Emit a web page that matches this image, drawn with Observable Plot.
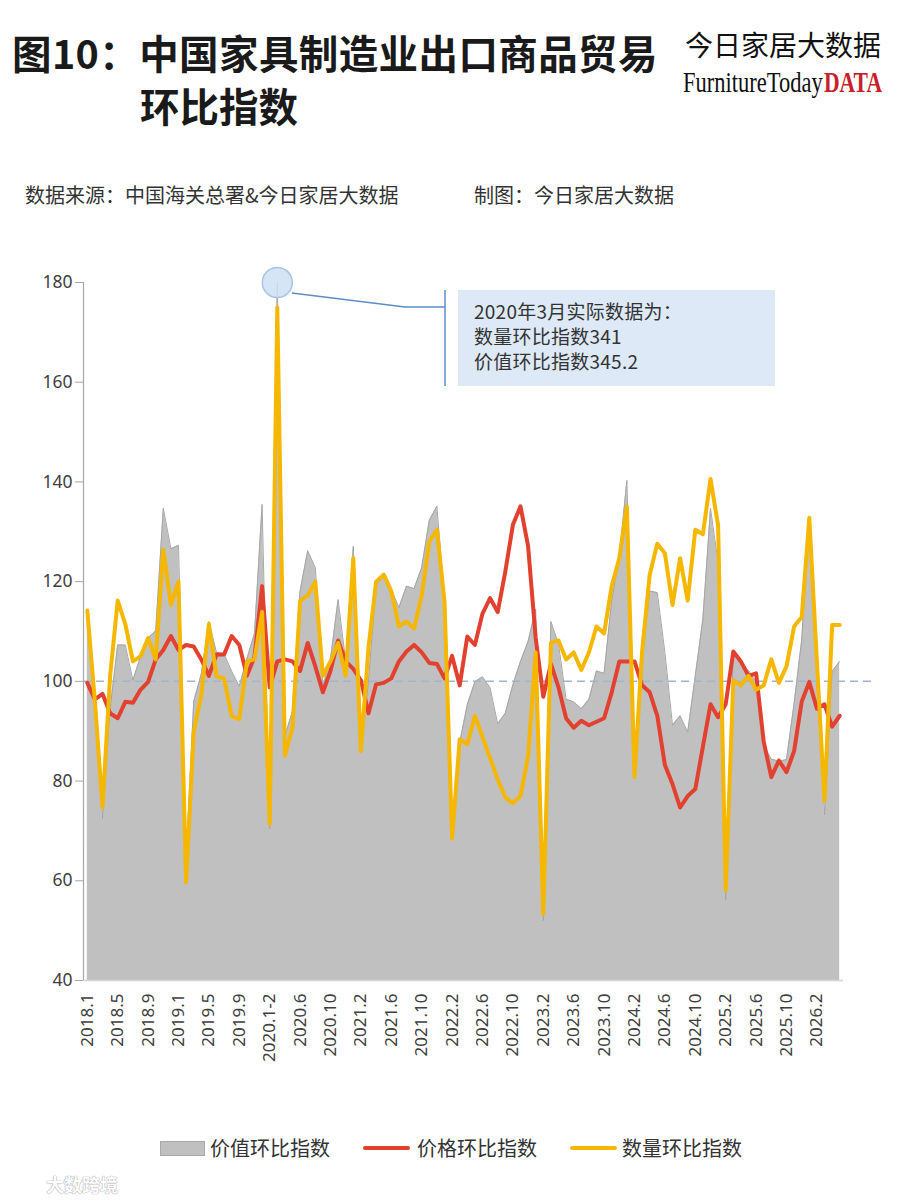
<!DOCTYPE html>
<html>
<head>
<meta charset="utf-8">
<script src="https://cdn.jsdelivr.net/npm/d3@7"></script>
<script src="https://cdn.jsdelivr.net/npm/@observablehq/plot@0.6"></script>
<style>
  body { margin: 0; background: #fff; font-family: "Noto Sans CJK SC", "Noto Sans", sans-serif; }
  #page { position: relative; width: 900px; height: 1200px; overflow: hidden; background: #fff; }
  .abs { position: absolute; white-space: nowrap; }
  #chart { position: absolute; left: 0; top: 262px; }
  .brand { position: absolute; top: 66px; font-family: "Liberation Serif", serif; font-size: 30px; line-height: 32px; transform-origin: 0 50%; white-space: nowrap; }
  .note { position: absolute; left: 474px; font-family: "Noto Sans CJK SC", "Noto Sans", sans-serif; font-size: 19px; line-height: 25px; letter-spacing: 0.25px; color: #333; white-space: nowrap; }
</style>
</head>
<body>
<div id="page">
  <div class="abs" style="left:12px;top:32px;font-size:39.5px;line-height:40px;letter-spacing:0.4px;font-weight:700;color:#1a1a1a;">图10：中国家具制造业出口商品贸易</div>
  <div class="abs" style="left:140px;top:85px;font-size:39.5px;line-height:40px;font-weight:700;color:#1a1a1a;">环比指数</div>
  <div class="abs" style="left:685px;top:29px;font-size:28px;line-height:30px;font-weight:400;color:#111;">今日家居大数据</div>
  <span class="brand" style="left:683px;color:#111;transform:scaleX(0.75);">FurnitureToday</span>
  <span class="brand" style="left:824px;color:#c8202a;font-weight:700;transform:scaleX(0.72);">DATA</span>
  <div class="abs" style="left:25px;top:185px;font-size:20px;line-height:20px;color:#333;">数据来源：中国海关总署&amp;今日家居大数据</div>
  <div class="abs" style="left:474px;top:185px;font-size:20px;line-height:20px;color:#333;">制图：今日家居大数据</div>

  <div id="chart"></div>

  <svg class="abs" style="left:0;top:0;pointer-events:none;" width="900" height="420">
    <polyline points="292,293 405,307 445,307" fill="none" stroke="#5b8dc9" stroke-width="1.5"/>
    <line x1="445" y1="290" x2="445" y2="386" stroke="#5b8dc9" stroke-width="1.5"/>
  </svg>
  <div class="abs" style="left:458px;top:290px;width:317px;height:96px;background:#dde9f7;"></div>
  <div class="note" style="top:298px;">2020年3月实际数据为：</div>
  <div class="note" style="top:323px;">数量环比指数341</div>
  <div class="note" style="top:348px;">价值环比指数345.2</div>

  <div class="abs" style="left:160px;top:1141px;width:43px;height:13px;background:#c0c0c0;border:1px solid #a8a8a8;"></div>
  <div class="abs" style="left:210px;top:1138px;font-size:20px;line-height:20px;color:#333;">价值环比指数</div>
  <div class="abs" style="left:363px;top:1146px;width:47px;height:4px;border-radius:2px;background:#e2412f;"></div>
  <div class="abs" style="left:417px;top:1138px;font-size:20px;line-height:20px;color:#333;">价格环比指数</div>
  <div class="abs" style="left:570px;top:1146px;width:47px;height:4px;border-radius:2px;background:#f5b700;"></div>
  <div class="abs" style="left:622px;top:1138px;font-size:20px;line-height:20px;color:#333;">数量环比指数</div>

  <div class="abs" style="left:46px;top:1173px;font-size:18px;line-height:22px;color:#fff;font-weight:700;text-shadow:0 0 1px #999,0 0 1px #999;">大数跨境</div>
</div>

<script>
// ---- tick labels (every 4th month, index 0,4,...,96) ----
const tickLabels = ["2018.1","2018.5","2018.9","2019.1","2019.5","2019.9","2020.1-2","2020.6","2020.10",
  "2021.2","2021.6","2021.10","2022.2","2022.6","2022.10","2023.2","2023.6","2023.10",
  "2024.2","2024.6","2024.10","2025.2","2025.6","2025.10","2026.2"];

// ---- 价值环比指数 (value index, 2020.3 shown capped) ----
const valueIdx = [
  114, 92.5, 72.5, 94.5, 107.3, 107.3, 100.2, 104.9, 108.7, 110.1,
  134.7, 126.6, 127.3, 64, 95.9, 101.5, 112, 105.8, 105.5, 102,
  99, 104.5, 109.6, 135.5, 70.5, 180, 89, 94, 118.1, 126.2,
  122.8, 99, 104.5, 116.4, 104, 127.1, 86.2, 100, 119.5, 121,
  118.5, 114.8, 119.1, 118.6, 122.8, 132.3, 135.1, 116.5, 71.5, 87.7,
  95.3, 99.9, 100.9, 98.7, 91.5, 93.6, 99.3, 104, 108, 114.5,
  52, 112, 107.5, 96.4, 95.9, 94.5, 96.4, 102.1, 101.6, 116.2,
  125, 140.3, 82, 104, 118.1, 117.8, 105.8, 91.2, 93.1, 89.8,
  101.1, 112.5, 134.7, 123.8, 56.2, 105.8, 103.2, 102.2, 99.9, 87.2,
  84.4, 84, 84.3, 95.5, 108.3, 132.7, 98, 73.2, 102, 104
];

// ---- 价格环比指数 (price index) ----
const priceIdx = [
  99.7, 96.4, 97.5, 93.6, 92.6, 95.9, 95.7, 98.3, 99.9, 104.4,
  106.3, 109.1, 106.3, 107.3, 107, 104.4, 101.1, 105.4, 105.4, 109.1,
  107.3, 101.1, 104.9, 119.1, 98.8, 104, 104.4, 104, 102.1, 107.7,
  103, 97.8, 102.1, 108.2, 104, 102.5, 100.2, 93.6, 99.4, 99.7,
  100.6, 104, 106, 107.3, 105.8, 103.7, 103.5, 100.6, 105.1, 99.2,
  109, 107.3, 113.6, 116.7, 113.9, 122, 131.4, 135.1, 127.1, 108.7,
  96.9, 103.5, 98.8, 92.6, 90.7, 92.1, 91.2, 91.9, 92.6, 97.8,
  104, 104, 104, 99.2, 97.8, 93.1, 83.2, 79.4, 74.7, 77,
  78.4, 86.9, 95.4, 92.8, 95.4, 106, 104, 101.1, 101.6, 87.9,
  80.8, 84.1, 81.8, 86, 95.9, 99.9, 94.5, 95.4, 90.9, 93.1
];

// ---- 数量环比指数 (quantity index, 2020.3 shown capped) ----
const quantityIdx = [
  114.2, 96, 74.7, 101, 116.2, 111.5, 104, 105, 108.7, 104.4,
  126.4, 115.3, 120, 59.7, 89.8, 97.3, 111.5, 101, 100.6, 93,
  92.4, 104, 104.4, 113.9, 71.4, 175, 85.1, 90.7, 116.2, 117.2,
  120, 101.1, 104, 107.7, 101.1, 124.7, 86, 106.8, 120, 121.4,
  118.1, 111, 112, 110.6, 117.2, 128, 130.4, 116, 68.5, 88.4,
  87.4, 93.1, 88.8, 84.6, 80.3, 76.7, 75.6, 77, 85, 105.8,
  53.4, 107.7, 108.2, 104.4, 105.8, 102.3, 105.8, 111, 109.6, 119.1,
  124.7, 135.1, 80.8, 106, 121.4, 127.6, 125.7, 115.3, 124.7, 116.2,
  130.4, 129.5, 140.6, 131.3, 58.1, 100.2, 99.2, 101.1, 98.3, 99.2,
  104.4, 99.7, 103, 111, 112.9, 132.8, 104, 76, 111.3, 111.3
];

const yTicks = [40, 60, 80, 100, 120, 140, 160, 180];
const annotatedIndex = 25; // 2020.3

const rows = valueIdx.map((v, i) => ({i, value: v, price: priceIdx[i], quantity: quantityIdx[i]}));
const tickIdx = tickLabels.map((_, k) => k * 4);

const RED = "#e2412f", YELLOW = "#f5b700";

const chart = Plot.plot({
  width: 900,
  height: 808,
  marginLeft: 83,
  marginRight: 57,
  marginTop: 20,
  marginBottom: 90,
  style: {fontFamily: "'Noto Sans', 'Open Sans', sans-serif", fontSize: "17px", color: "#404040", background: "transparent"},
  x: {type: "linear", domain: [-0.5, rows.length - 0.5]},
  y: {domain: [40, 180]},
  marks: [
    Plot.areaY(rows, {x: "i", y1: 40, y2: "value", fill: "#c0c0c0"}),
    Plot.line(rows, {x: "i", y: "value", stroke: "#a6a6a6", strokeWidth: 1}),
    Plot.ruleY([100], {x1: -0.5, x2: 103.3, stroke: "#9fb5cc", strokeWidth: 1.5, strokeDasharray: "8,5"}),
    Plot.dot([rows[annotatedIndex]], {x: "i", y: () => 180, r: 15, fill: "#cfe0f3", fillOpacity: 0.85, stroke: "#a9c5e6", strokeWidth: 1.5}),
    Plot.line(rows, {x: "i", y: "price", stroke: RED, strokeWidth: 4, strokeLinejoin: "round"}),
    Plot.line(rows, {x: "i", y: "quantity", stroke: YELLOW, strokeWidth: 4, strokeLinejoin: "round"}),
    Plot.ruleY([40], {x1: -0.5, x2: rows.length - 0.5, stroke: "#d4d4d4", strokeWidth: 1.5}),
    Plot.ruleX([-0.5], {y1: 40, y2: 180, stroke: "#a6a6a6", strokeWidth: 1.2}),
    Plot.axisY({ticks: yTicks, tickSize: 8, tickPadding: 3, stroke: "#a6a6a6", fontSize: 17.5, label: null}),
    Plot.axisX({ticks: tickIdx, tickFormat: d => tickLabels[d / 4], tickRotate: -90, tickSize: 0, tickPadding: 13, label: null})
  ]
});
document.getElementById("chart").appendChild(chart);
</script>
</body>
</html>
